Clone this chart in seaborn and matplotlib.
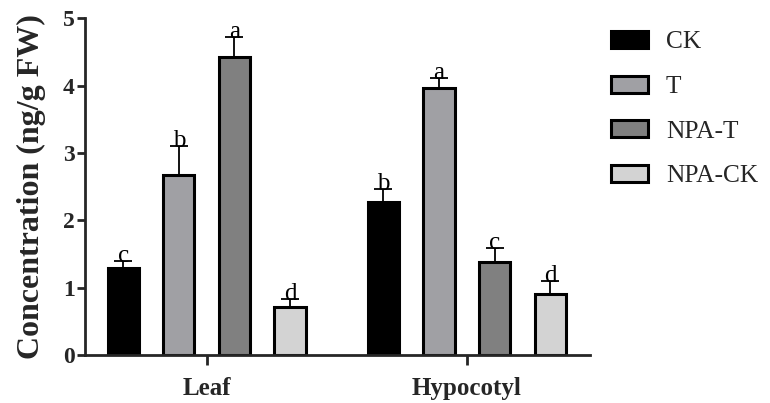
import matplotlib
matplotlib.use("Agg")
import matplotlib.pyplot as plt
import seaborn as sns
import pandas as pd
import numpy as np

tissues = ["Leaf", "Hypocotyl"]
treatments = ["CK", "T", "NPA-T", "NPA-CK"]
leaf_vals = [1.29, 2.67, 4.42, 0.71]
leaf_err = [0.10, 0.43, 0.30, 0.12]
hypo_vals = [2.27, 3.96, 1.38, 0.91]
hypo_err = [0.19, 0.15, 0.21, 0.19]
leaf_letters = ["c", "b", "a", "d"]
hypo_letters = ["b", "a", "c", "d"]
colors = ["#000000", "#a0a0a4", "#808080", "#d3d3d3"]

rows = []
for t, vals, errs, lets in [("Leaf", leaf_vals, leaf_err, leaf_letters),
                             ("Hypocotyl", hypo_vals, hypo_err, hypo_letters)]:
    for tr, v, e, l in zip(treatments, vals, errs, lets):
        rows.append(dict(tissue=t, treatment=tr, value=v, err=e, letter=l))
df = pd.DataFrame(rows)

sns.set_style("ticks")
plt.rcParams["font.family"] = ["Liberation Serif", "DejaVu Serif"]

fig = plt.figure(figsize=(7.7, 4.03), dpi=100)
ax = fig.add_axes([0.110, 0.119, 0.656, 0.836])

sns.barplot(data=df, x="tissue", y="value", hue="treatment", order=tissues,
            hue_order=treatments, palette=colors, width=0.854, gap=0.44,
            errorbar=None, edgecolor="black", linewidth=2.2, ax=ax, legend=True)

bars = [p for p in ax.patches if p.get_height() > 0]
for tr_i, tr in enumerate(treatments):
    for ti, t in enumerate(tissues):
        r = df[(df.tissue == t) & (df.treatment == tr)].iloc[0]
        cands = [p for p in bars if abs(p.get_height() - r.value) < 1e-9]
        p = cands[0]
        xc = p.get_x() + p.get_width() / 2
        ax.errorbar(xc, r.value, yerr=[[0], [r.err]], fmt="none", ecolor="black",
                    elinewidth=1.3, capsize=6.5, capthick=1.3, zorder=1)
        ax.text(xc, r.value + r.err - 0.015, r.letter, ha="center", va="baseline",
                fontsize=18, color="black")

ax.set_ylim(0, 5)
ax.set_xlim(-0.469, 1.473)
ax.set_yticks([0, 1, 2, 3, 4, 5])
ax.set_xlabel("")
ax.set_ylabel("Concentration (ng/g FW)", fontsize=23, fontweight="bold", labelpad=12)
for lab in ax.get_yticklabels():
    lab.set_fontweight("bold")
    lab.set_fontsize(17)
for lab in ax.get_xticklabels():
    lab.set_fontweight("bold")
    lab.set_fontsize(18)
ax.tick_params(axis="both", width=2, length=6, direction="out")
ax.tick_params(axis="x", pad=9, length=7)
ax.tick_params(axis="y", pad=1)
sns.despine(ax=ax)
for s in ["left", "bottom"]:
    ax.spines[s].set_linewidth(2)

handles, labels = ax.get_legend_handles_labels()
leg = ax.legend(handles, labels, loc="upper left", bbox_to_anchor=(0.996, 1.03),
                frameon=False, fontsize=18.3, handlelength=1.45, handleheight=0.66,
                labelspacing=0.87, handletextpad=0.72)
for h in leg.legend_handles:
    h.set_edgecolor("black")
    h.set_linewidth(2.2)

fig.savefig("out.png", dpi=100)
